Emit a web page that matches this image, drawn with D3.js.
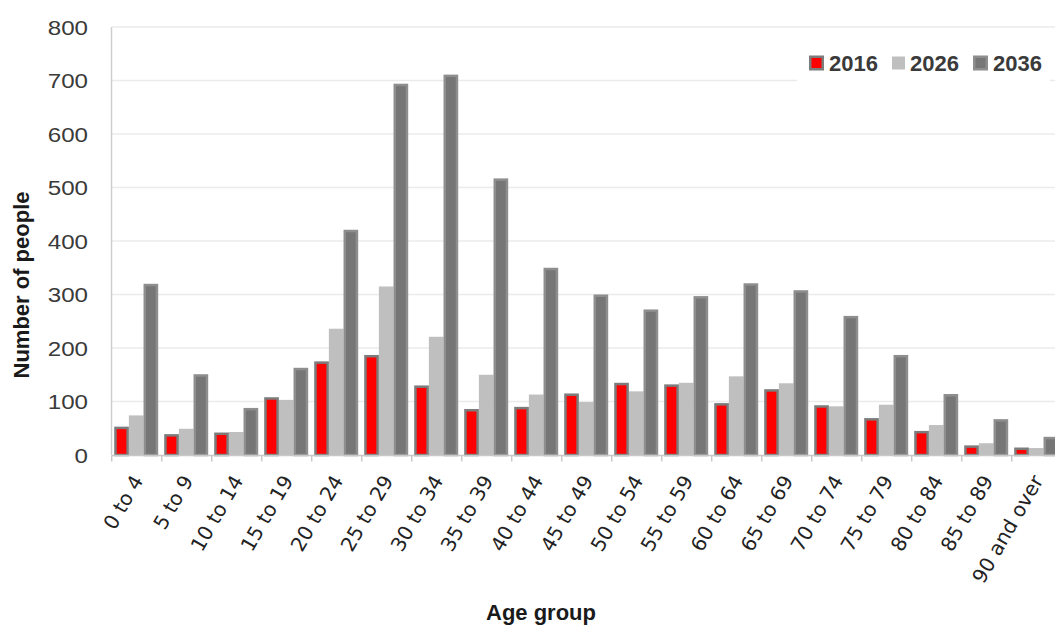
<!DOCTYPE html>
<html><head><meta charset="utf-8">
<script src="https://cdn.jsdelivr.net/npm/d3@7"></script>
<style>body{margin:0;background:#fff}svg{display:block}</style>
</head><body>
<svg id="chart" width="1055" height="625"></svg>
<script>
const categories = ["0 to 4","5 to 9","10 to 14","15 to 19","20 to 24","25 to 29","30 to 34","35 to 39","40 to 44","45 to 49","50 to 54","55 to 59","60 to 64","65 to 69","70 to 74","75 to 79","80 to 84","85 to 89","90 and over"];
const seriesNames = ["2016","2026","2036"];
const values2016 = [53,39,42,108,175,187,130,86,90,115,135,132,97,123,93,69,45,18,14];
const values2026 = [74,49,43,103,236,315,221,150,113,99,119,135,147,134,91,94,56,22,13];
const values2036 = [320,151,88,163,421,694,711,517,350,300,272,297,321,308,260,187,114,67,34];
const yTicks = [0,100,200,300,400,500,600,700,800];

const svg = d3.select("#chart");
const x0 = d3.scaleBand().domain(categories).range([111.7, 1061.7]).paddingInner(0).paddingOuter(0);
const x1 = d3.scaleBand().domain(seriesNames).range([2.5, 46.5]);
const y = d3.scaleLinear().domain([0, 800]).range([455, 27]);

// gridlines
svg.append("g").selectAll("line").data(yTicks.filter(d => d > 0)).join("line")
  .attr("x1", 111.5).attr("x2", 1055).attr("y1", d => y(d)).attr("y2", d => y(d))
  .attr("stroke", "#ebebeb").attr("stroke-width", 1.3);

// y axis line
svg.append("line").attr("x1", 111.5).attr("x2", 111.5).attr("y1", y(800)).attr("y2", y(0))
  .attr("stroke", "#cfcfcf").attr("stroke-width", 1.5);

// y tick labels
svg.append("g").selectAll("text").data(yTicks).join("text")
  .attr("transform", d => `translate(88,${y(d)}) scale(1.15,1)`)
  .attr("dy", "0.36em").attr("text-anchor", "end")
  .attr("font-family", "Liberation Sans, Arial").attr("font-size", 21).attr("fill", "#3a3a3a")
  .text(d => d);

// bars
const series = [
  {name: "2016", vals: values2016, fill: "#ff0000", stroke: "#7c7c7c"},
  {name: "2026", vals: values2026, fill: "#bfbfbf", stroke: "none"},
  {name: "2036", vals: values2036, fill: "#767676", stroke: "#8e8e8e"}
];
const drawOrder = [1, 0, 2];
drawOrder.forEach(i => {
  const s = series[i];
  const sw = s.stroke === "none" ? 0 : 2.5;
  svg.append("g").selectAll("rect").data(categories).join("rect")
    .attr("x", (c) => x0(c) + x1(s.name) + sw / 2)
    .attr("y", (c, j) => y(s.vals[j]) + sw / 2)
    .attr("width", x1.bandwidth() - sw)
    .attr("height", (c, j) => Math.max(0, y(0) - y(s.vals[j]) - sw / 2))
    .attr("fill", s.fill)
    .attr("stroke", s.stroke).attr("stroke-width", sw);
});

// x axis line and ticks
const gx = svg.append("g").attr("transform", "translate(0,455.5)");
gx.append("line").attr("x1", 111.5).attr("x2", 1055).attr("stroke", "#c8c8c8").attr("stroke-width", 1.5);
gx.selectAll("line.tk").data(categories).join("line").attr("class", "tk")
  .attr("x1", c => x0(c)).attr("x2", c => x0(c)).attr("y1", 0).attr("y2", 6)
  .attr("stroke", "#c8c8c8").attr("stroke-width", 1.5);

// x tick labels
svg.append("g").selectAll("text").data(categories).join("text")
  .attr("transform", c => `translate(${x0(c) + x0.bandwidth() / 2 + 1},${477}) rotate(-60)`)
  .attr("text-anchor", "end").attr("dy", "0.35em")
  .attr("font-family", "DejaVu Sans").attr("font-size", 20).attr("fill", "#222")
  .text(c => c);

// axis titles
svg.append("text").attr("x", 541).attr("y", 620).attr("text-anchor", "middle")
  .attr("font-family", "Liberation Sans, Arial").attr("font-weight", "bold").attr("font-size", 22).attr("fill", "#1a1a1a")
  .text("Age group");
svg.append("text").attr("transform", "translate(29,285) rotate(-90)").attr("text-anchor", "middle")
  .attr("font-family", "Liberation Sans, Arial").attr("font-weight", "bold").attr("font-size", 22).attr("fill", "#1a1a1a")
  .text("Number of people");

// legend
const lg = svg.append("g");
lg.append("rect").attr("x", 797).attr("y", 45).attr("width", 253).attr("height", 45).attr("fill", "#fff");
const legendItems = [
  {name: seriesNames[0], fill: "#ff0000", stroke: "#7c7c7c", sx: 809, tx: 829},
  {name: seriesNames[1], fill: "#bfbfbf", stroke: "none", sx: 892, tx: 910},
  {name: seriesNames[2], fill: "#767676", stroke: "#8e8e8e", sx: 973, tx: 993}
];
legendItems.forEach(it => {
  const sw = it.stroke === "none" ? 0 : 2.5;
  const size = it.stroke === "none" ? 13 : 15;
  lg.append("rect").attr("x", it.sx + sw / 2).attr("y", 55.5 + sw / 2 + (15 - size) / 2)
    .attr("width", size - sw).attr("height", size - sw)
    .attr("fill", it.fill).attr("stroke", it.stroke).attr("stroke-width", sw);
  lg.append("text").attr("x", it.tx).attr("y", 71).attr("font-family", "Liberation Sans, Arial")
    .attr("font-weight", "bold").attr("font-size", 22).attr("fill", "#3a3a3a").text(it.name);
});
</script>
</body></html>
